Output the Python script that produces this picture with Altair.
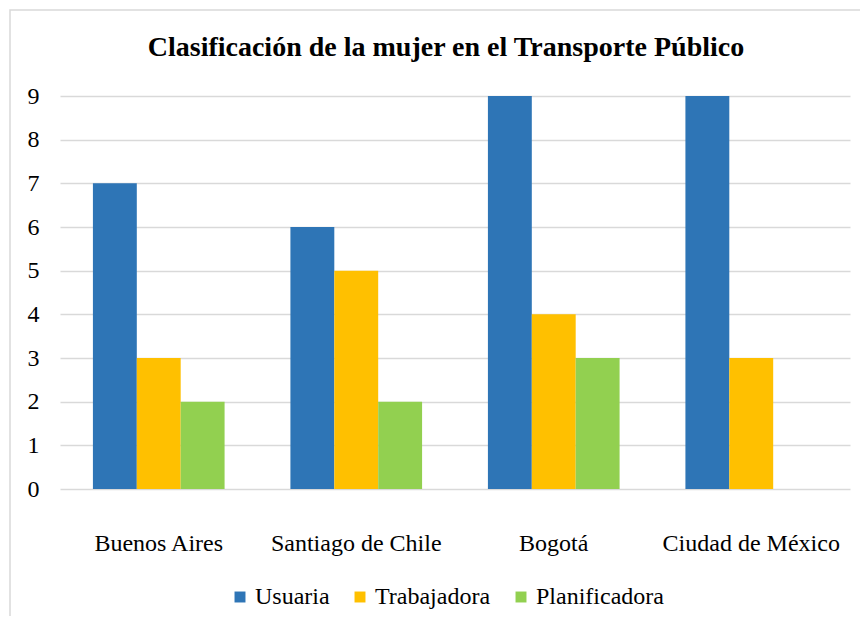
import altair as alt
import pandas as pd

ciudades = ["Buenos Aires", "Santiago de Chile", "Bogotá", "Ciudad de México"]
series = ["Usuaria", "Trabajadora", "Planificadora"]
usuaria = [7, 6, 9, 9]
trabajadora = [3, 5, 4, 3]
planificadora = [2, 2, 3, 0]
colores = ["#2E75B6", "#FFC000", "#92D050"]
y_ticks = [0, 1, 2, 3, 4, 5, 6, 7, 8, 9]

rows = []
for i, c in enumerate(ciudades):
    for s, vals in zip(series, [usuaria, trabajadora, planificadora]):
        rows.append({"ciudad": c, "serie": s, "valor": vals[i]})
df = pd.DataFrame(rows)

FONT = "Liberation Serif"

bars = alt.Chart(df).mark_bar().encode(
    x=alt.X("ciudad:N", sort=ciudades, title=None,
            scale=alt.Scale(paddingInner=1/3, paddingOuter=1/6),
            axis=alt.Axis(labelAngle=0, domain=False, ticks=False, labelPadding=42,
                          labelFontSize=24, labelFont=FONT, labelColor="#000000")),
    xOffset=alt.XOffset("serie:N", sort=series, scale=alt.Scale(paddingInner=0, paddingOuter=0)),
    y=alt.Y("valor:Q", title=None,
            scale=alt.Scale(domain=[0, 9], nice=False),
            axis=alt.Axis(values=y_ticks, domain=False, ticks=False, labelOverlap=False,
                          grid=True, gridColor="#D9D9D9", gridWidth=1.5,
                          labelPadding=21, labelFontSize=24, labelFont=FONT,
                          labelColor="#000000")),
    color=alt.Color("serie:N", sort=series, title=None,
                    scale=alt.Scale(domain=series, range=colores),
                    legend=alt.Legend(orient="none", legendX=168, legendY=489,
                                      direction="horizontal", symbolType="square",
                                      symbolSize=120, symbolStrokeWidth=0,
                                      labelFontSize=24, labelFont=FONT, labelColor="#000000",
                                      labelOffset=3, columnPadding=18)),
)

border = alt.Chart(alt.Data(values=[{"a": 1}])).mark_rect(
    filled=False, stroke="#D9D9D9", strokeWidth=1.5, clip=False
).encode(
    x=alt.value(-50), x2=alt.value(900), y=alt.value(-86), y2=alt.value(600)
)

chart = alt.layer(border, bars).properties(
    width=790, height=393,
    autosize=alt.AutoSizeParams(type="none"),
    padding={"left": 52, "top": 88, "right": 10, "bottom": 127},
    title=alt.TitleParams("Clasificación de la mujer en el Transporte Público",
                          font=FONT, fontSize=28, fontWeight="bold", color="#000000",
                          anchor="middle", frame="group", offset=0, baseline="alphabetic",
                          dy=75, dx=-9),
).configure_view(stroke=None)

chart.save("out.html", embed_options={"renderer": "svg", "actions": False})
